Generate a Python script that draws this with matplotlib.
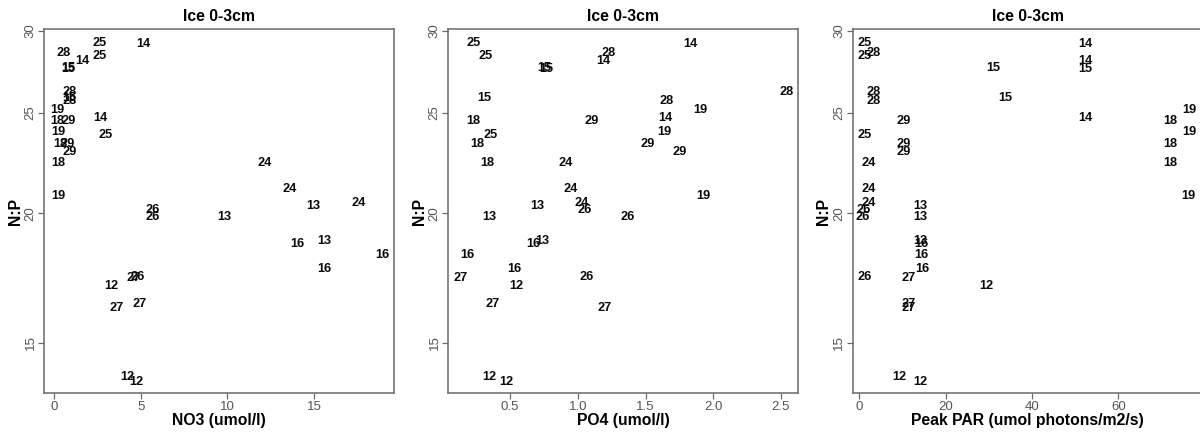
import matplotlib
matplotlib.use("Agg")
import matplotlib.pyplot as plt
from matplotlib.ticker import FixedLocator, FixedFormatter, NullLocator

plt.rcParams['font.family'] = ['Liberation Sans', 'DejaVu Sans']

labels = ["25", "25", "15", "15", "28", "14", "14", "28", "15", "28",
          "19", "18", "29", "14", "25", "18", "19", "29", "29", "18",
          "24", "24", "19", "13", "24", "26", "13", "26", "16", "13",
          "16", "16", "27", "12", "26", "27", "27", "12", "12"]
np_ratio = [29.19, 28.40, 27.63, 27.58, 28.59, 28.08, 29.12, 26.20, 25.87, 25.68,
            25.17, 24.57, 24.57, 24.71, 23.79, 23.33, 23.96, 23.36, 22.90, 22.35,
            22.35, 21.11, 20.80, 20.35, 20.47, 20.14, 19.85, 19.85, 18.69, 18.80,
            18.25, 17.69, 17.34, 17.02, 17.35, 16.36, 16.20, 13.89, 13.76]
no3 = [2.65, 2.62, 0.80, 0.85, 0.54, 1.65, 5.15, 0.88, 0.88, 0.92,
       0.19, 0.19, 0.83, 2.65, 3.00, 0.35, 0.25, 0.80, 0.92, 0.25,
       12.17, 13.62, 0.25, 14.96, 17.60, 5.67, 9.81, 5.69, 14.04, 15.58,
       18.95, 15.58, 4.60, 3.33, 4.80, 4.92, 3.58, 4.25, 4.73]
po4 = [0.228, 0.315, 0.75, 0.77, 1.228, 1.19, 1.833, 2.54, 0.31, 1.656,
       1.907, 0.228, 1.098, 1.648, 0.357, 0.258, 1.636, 1.513, 1.754, 0.332,
       0.913, 0.944, 1.927, 0.698, 1.031, 1.048, 0.347, 1.364, 0.673, 0.735,
       0.187, 0.532, 0.13, 0.549, 1.061, 0.372, 1.196, 0.347, 0.475]
par = [1.32, 1.16, 31.0, 52.4, 3.4, 52.4, 52.4, 3.4, 33.9, 3.4,
       76.4, 72.0, 10.35, 52.4, 1.16, 72.0, 76.4, 10.35, 10.35, 72.0,
       2.25, 2.25, 76.2, 14.2, 2.25, 0.9, 14.2, 0.8, 14.3, 14.2,
       14.3, 14.5, 11.35, 29.35, 1.16, 11.4, 11.35, 9.27, 14.2]

titles = ["Ice 0-3cm", "Ice 0-3cm", "Ice 0-3cm"]
xlabels = ["NO3 (umol/l)", "PO4 (umol/l)", "Peak PAR (umol photons/m2/s)"]
ylabel = "N:P"
xticks = [[0, 5, 10, 15], [0.5, 1.0, 1.5, 2.0, 2.5], [0, 20, 40, 60]]
xticklabels = [["0", "5", "10", "15"], ["0.5", "1.0", "1.5", "2.0", "2.5"], ["0", "20", "40", "60"]]
yticks = [15, 20, 25, 30]
yticklabels = ["15", "20", "25", "30"]
xlims = [(-0.56, 19.63), (0.043, 2.628), (-1.53, 79.5)]
ylim = (13.41, 30.11)

W, H = 1200, 434
fig = plt.figure(figsize=(W / 100, H / 100), dpi=100)
lefts = [44.3, 448.3, 852.7]
axw = 350.0
top, bottom = 29.3, 393.3

frame_col = "#6a6a6a"
tick_col = "#555555"
xs = [no3, po4, par]
for i in range(3):
    ax = fig.add_axes([lefts[i] / W, (H - bottom) / H, axw / W, (bottom - top) / H])
    ax.set_yscale('log')
    ax.set_xlim(*xlims[i])
    ax.set_ylim(*ylim)
    for x, y, lab in zip(xs[i], np_ratio, labels):
        ax.text(x, y, lab, ha='center', va='center', fontsize=9.2,
                fontweight='bold', color='#0a0a0a')
    ax.yaxis.set_major_locator(FixedLocator(yticks))
    ax.yaxis.set_major_formatter(FixedFormatter(yticklabels))
    ax.yaxis.set_minor_locator(NullLocator())
    ax.xaxis.set_major_locator(FixedLocator(xticks[i]))
    ax.xaxis.set_major_formatter(FixedFormatter(xticklabels[i]))
    ax.xaxis.set_minor_locator(NullLocator())
    for sp in ax.spines.values():
        sp.set_color(frame_col)
        sp.set_linewidth(1.1)
    ax.tick_params(axis='both', direction='out', length=4, width=0.9,
                   color=frame_col, labelcolor=tick_col, labelsize=9.5, pad=1.5)
    ax.tick_params(axis='y', labelrotation=90)
    for t in ax.get_yticklabels():
        t.set_va('center')
    ax.set_title(titles[i], fontsize=11.3, fontweight='bold', pad=6)
    ax.set_xlabel(xlabels[i], fontsize=11.3, fontweight='bold', labelpad=0)
    ax.set_ylabel(ylabel, fontsize=11.3, fontweight='bold', labelpad=1.5)

fig.savefig("out.png", dpi=100, facecolor='white')
